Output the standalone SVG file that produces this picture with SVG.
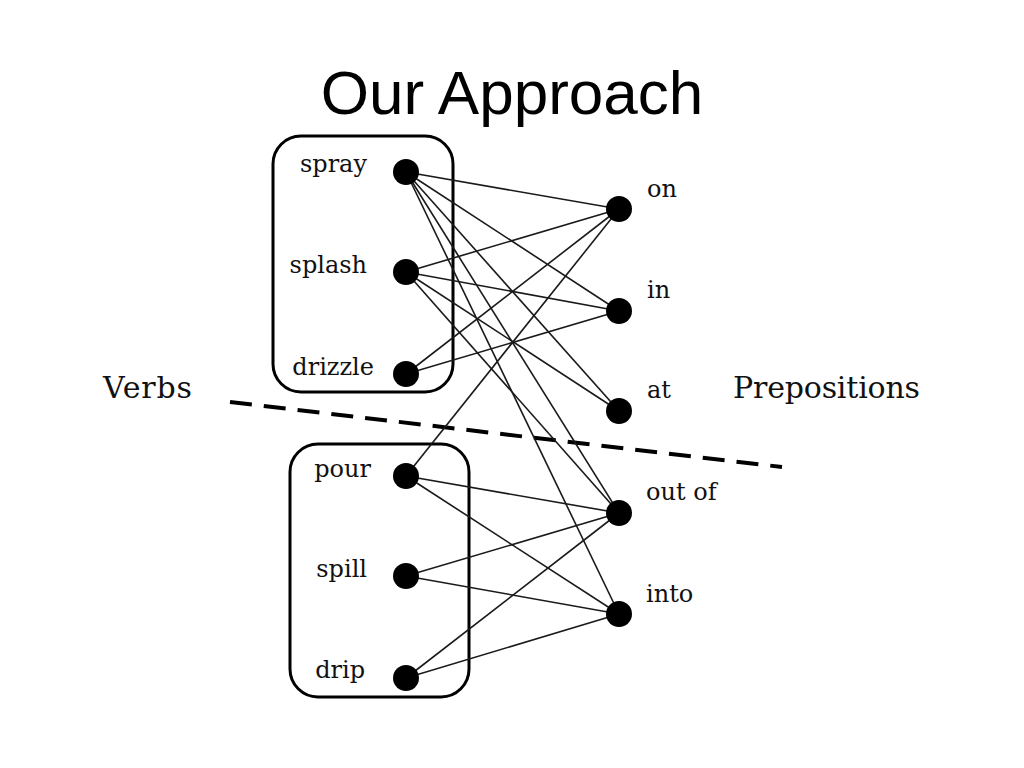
<svg xmlns="http://www.w3.org/2000/svg" width="1024" height="768" viewBox="0 0 1024 768">
<style>
.edge{stroke:#1a1a1a;stroke-width:1.6;fill:none}
.dot{fill:#000}
.lbl{font-family:"DejaVu Serif","Liberation Serif",serif;font-size:24px;fill:#111}
.big{font-family:"DejaVu Serif","Liberation Serif",serif;font-size:30px;fill:#111}
.box{fill:none;stroke:#000;stroke-width:3}
</style>
<rect width="1024" height="768" fill="#fff"/>
<text x="512" y="114" text-anchor="middle" font-family="Liberation Sans, Arial, sans-serif" font-size="62" fill="#000">Our Approach</text>
<g id="groups">
<rect class="box" x="273" y="136" width="180" height="256" rx="28"/>
<rect class="box" x="290" y="444" width="179" height="253" rx="28"/>
</g>
<line id="divider" x1="230" y1="402" x2="782" y2="467" stroke="#000" stroke-width="4" stroke-dasharray="22 12"/>
<g id="connectors">
<line class="edge" x1="406" y1="172" x2="619" y2="209"/>
<line class="edge" x1="406" y1="172" x2="619" y2="311"/>
<line class="edge" x1="406" y1="172" x2="619" y2="411"/>
<line class="edge" x1="406" y1="172" x2="619" y2="513"/>
<line class="edge" x1="406" y1="172" x2="619" y2="614"/>
<line class="edge" x1="406" y1="272" x2="619" y2="209"/>
<line class="edge" x1="406" y1="272" x2="619" y2="311"/>
<line class="edge" x1="406" y1="272" x2="619" y2="411"/>
<line class="edge" x1="406" y1="272" x2="619" y2="513"/>
<line class="edge" x1="406" y1="374" x2="619" y2="209"/>
<line class="edge" x1="406" y1="374" x2="619" y2="311"/>
<line class="edge" x1="406" y1="476" x2="619" y2="209"/>
<line class="edge" x1="406" y1="476" x2="619" y2="513"/>
<line class="edge" x1="406" y1="476" x2="619" y2="614"/>
<line class="edge" x1="406" y1="576" x2="619" y2="513"/>
<line class="edge" x1="406" y1="576" x2="619" y2="614"/>
<line class="edge" x1="406" y1="678" x2="619" y2="513"/>
<line class="edge" x1="406" y1="678" x2="619" y2="614"/>
</g>
<g id="spray"><circle class="dot" cx="406" cy="172" r="13"/><text class="lbl" x="367" y="172" text-anchor="end">spray</text></g>
<g id="splash"><circle class="dot" cx="406" cy="272" r="13"/><text class="lbl" x="367" y="273" text-anchor="end">splash</text></g>
<g id="drizzle"><circle class="dot" cx="406" cy="374" r="13"/><text class="lbl" x="374" y="375" text-anchor="end">drizzle</text></g>
<g id="pour"><circle class="dot" cx="406" cy="476" r="13"/><text class="lbl" x="371" y="477" text-anchor="end">pour</text></g>
<g id="spill"><circle class="dot" cx="406" cy="576" r="13"/><text class="lbl" x="367" y="577" text-anchor="end">spill</text></g>
<g id="drip"><circle class="dot" cx="406" cy="678" r="13"/><text class="lbl" x="365" y="678" text-anchor="end">drip</text></g>
<g id="on"><circle class="dot" cx="619" cy="209" r="13"/><text class="lbl" x="647" y="197">on</text></g>
<g id="in"><circle class="dot" cx="619" cy="311" r="13"/><text class="lbl" x="647" y="298">in</text></g>
<g id="at"><circle class="dot" cx="619" cy="411" r="13"/><text class="lbl" x="647" y="398">at</text></g>
<g id="outof"><circle class="dot" cx="619" cy="513" r="13"/><text class="lbl" x="646" y="500">out of</text></g>
<g id="into"><circle class="dot" cx="619" cy="614" r="13"/><text class="lbl" x="646" y="602">into</text></g>
<text class="big" x="103" y="398" textLength="89">Verbs</text>
<text class="big" x="733" y="398" textLength="187">Prepositions</text>
</svg>
